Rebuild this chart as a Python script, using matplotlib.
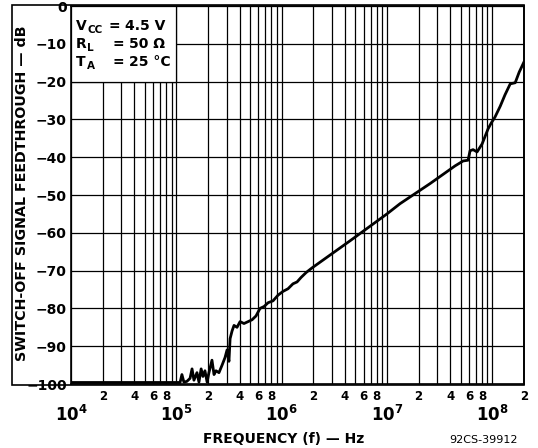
import numpy as np
import matplotlib
import matplotlib.pyplot as plt
from matplotlib.ticker import FixedLocator, FuncFormatter
from matplotlib.patches import Rectangle

plt.rcParams['font.family'] = ['DejaVu Sans']
plt.rcParams['mathtext.fontset'] = 'dejavusans'

# frequency (Hz) and switch-off feedthrough (dB)
freq = [1e4, 1.0e5, 1.085e5, 1.13e5, 1.18e5, 1.26e5, 1.35e5, 1.41e5, 1.47e5,
        1.57e5, 1.64e5, 1.72e5, 1.79e5, 1.87e5, 1.96e5, 2.04e5, 2.18e5,
        2.28e5, 2.38e5, 2.54e5, 2.72e5, 2.90e5, 3.03e5, 3.16e5, 3.24e5,
        3.38e5, 3.53e5, 3.77e5, 4.03e5, 4.39e5, 4.80e5, 5.24e5, 5.71e5,
        6.23e5, 6.81e5, 7.43e5, 8.28e5, 9.24e5, 1.03e6, 1.15e6, 1.28e6,
        1.40e6, 1.53e6, 1.71e6, 1.94e6, 4.47e6, 1.0e7, 1.33e7, 2.56e7,
        4.43e7, 4.94e7, 5.28e7, 5.89e7, 6.15e7, 6.57e7, 7.17e7, 8.0e7,
        9.12e7, 9.75e7, 1.06e8, 1.19e8, 1.32e8, 1.48e8, 1.65e8, 1.80e8, 2.0e8]
feedthrough = [-99.6, -99.6, -99.6, -97.5, -99.5, -99.3, -98.5, -96.0, -99.0,
               -97.0, -99.5, -96.0, -98.0, -96.5, -99.5, -97.0, -93.7,
               -97.5, -96.5, -97.0, -95.0, -93.0, -91.0, -94.0, -88.0,
               -86.0, -84.5, -85.0, -83.5, -84.0, -83.5, -83.0, -82.0,
               -80.0, -79.5, -78.5, -78.0, -76.5, -75.5, -74.8, -73.5,
               -73.0, -71.8, -70.5, -69.3, -62.1, -55.0, -52.3, -47.0,
               -42.3, -41.5, -41.0, -40.8, -38.3, -38.0, -38.6, -36.5,
               -32.5, -31.0, -29.4, -26.5, -23.5, -20.6, -20.3, -17.5, -14.8]

y_ticks = list(range(-100, 1, 10))
x_major = [1e4, 1e5, 1e6, 1e7, 1e8]
x_minor = [k * 10**d for d in range(4, 9) for k in range(2, 10) if k * 10**d <= 2e8]

W, H = 538, 448
fig = plt.figure(figsize=(W / 100, H / 100), dpi=100)
ax = fig.add_axes([71 / W, 64 / H, 453 / W, 378 / H])

ax.plot(freq, feedthrough, color='black', lw=2.0, zorder=3)

ax.set_xscale('log')
ax.set_xlim(1e4, 2e8)
ax.set_ylim(-100, 0)
ax.xaxis.set_major_locator(FixedLocator(x_major))
ax.xaxis.set_minor_locator(FixedLocator(x_minor))
ax.yaxis.set_major_locator(FixedLocator(y_ticks))

def major_fmt(v, pos):
    return r'$\mathbf{10^{%d}}$' % round(np.log10(v))

def minor_fmt(v, pos):
    m = int(round(v / 10**np.floor(np.log10(v) + 1e-9)))
    return str(m) if m in (2, 4, 6, 8) else ''

ax.xaxis.set_major_formatter(FuncFormatter(major_fmt))
ax.xaxis.set_minor_formatter(FuncFormatter(minor_fmt))

ax.set_axisbelow(True)
ax.grid(True, which='both', color='black', lw=0.9)
ax.tick_params(which='both', length=0)
ax.tick_params(axis='x', which='major', pad=15, labelsize=12)
ax.tick_params(axis='x', which='minor', pad=4, labelsize=8.5)
ax.tick_params(axis='y', pad=3, labelsize=10)
for lab in ax.get_xticklabels(which='both') + ax.get_yticklabels():
    lab.set_fontweight('bold')
for s in ax.spines.values():
    s.set_linewidth(1.2)

# conditions box in the upper left
ax.add_patch(Rectangle((1e4, -20), 1e5 - 1e4, 20, facecolor='white',
                       edgecolor='black', lw=0.9, zorder=1.5))

def px(x, y):
    return x / W, 1 - y / H

fs = 10
rows = [('V', 'CC', 109, 125, '4.5 V', 30),
        ('R', 'L', 112, 129, '50 Ω', 48),
        ('T', 'A', 112, 129, '25 °C', 66)]
for sym, sub, xeq, xval, val, yb in rows:
    fig.text(*px(76, yb), sym, fontsize=fs, fontweight='bold', va='baseline')
    fig.text(*px(87, yb + 3), sub, fontsize=7.5, fontweight='bold', va='baseline')
    fig.text(*px(xeq, yb), '=', fontsize=fs, fontweight='bold', va='baseline')
    fig.text(*px(xval, yb), val, fontsize=fs, fontweight='bold', va='baseline')

# outer frame around tick labels
fig.add_artist(Rectangle(px(12, 385), (524 - 12) / W, 380 / H, fill=False,
                         edgecolor='black', lw=1.2, transform=fig.transFigure))

fig.text(*px(22, 193), 'SWITCH-OFF SIGNAL FEEDTHROUGH — dB', rotation=90,
         fontsize=10.3, fontweight='bold', ha='center', va='center')
fig.text(*px(284, 439), 'FREQUENCY (f) — Hz', fontsize=10, fontweight='bold',
         ha='center', va='center')
fig.text(*px(484, 440), '92CS-39912', fontsize=8, ha='center', va='center')

fig.savefig('out.png', dpi=100)
